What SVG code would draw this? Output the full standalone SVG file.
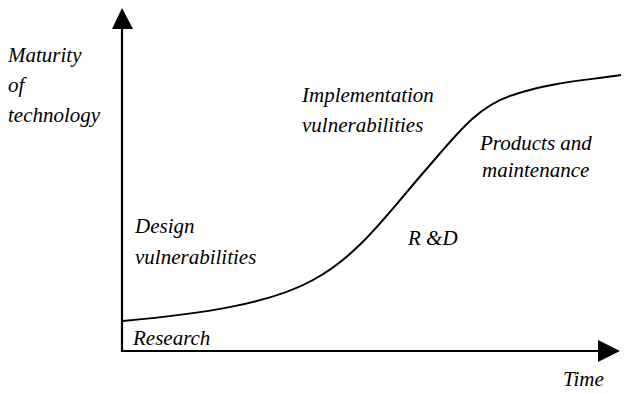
<svg xmlns="http://www.w3.org/2000/svg" width="629" height="393" viewBox="0 0 629 393">
<rect width="629" height="393" fill="#fff"/>
<g id="connectors">
<path d="M122,352 L122,28" stroke="#000" stroke-width="2.2" fill="none"/>
<polygon points="122,8 112,29 133,29" fill="#000"/>
<path d="M121,351 L599,351" stroke="#000" stroke-width="2.2" fill="none"/>
<polygon points="620,351 598,340 598,362" fill="#000"/>
<path d="M123,321 C200,314 270,304 313,280 C360,255 390,210 430,165 C460,130 480,105 513,95 C550,82 590,80 621,75" stroke="#000" stroke-width="2" fill="none"/>
</g>
<g id="axis-y-label">
<text x="8" y="62" style="font-family:'Liberation Serif',serif !important;font-style:italic !important;font-size:21px !important">Maturity</text>
<text x="8" y="92" style="font-family:'Liberation Serif',serif !important;font-style:italic !important;font-size:21px !important">of</text>
<text x="8" y="122" style="font-family:'Liberation Serif',serif !important;font-style:italic !important;font-size:21px !important">technology</text>
</g>
<g id="impl">
<text x="302" y="102" style="font-family:'Liberation Serif',serif !important;font-style:italic !important;font-size:21px !important">Implementation</text>
<text x="302" y="132" style="font-family:'Liberation Serif',serif !important;font-style:italic !important;font-size:21px !important">vulnerabilities</text>
</g>
<g id="products">
<text x="480" y="150" style="font-family:'Liberation Serif',serif !important;font-style:italic !important;font-size:21px !important">Products and</text>
<text x="482" y="177" style="font-family:'Liberation Serif',serif !important;font-style:italic !important;font-size:21px !important">maintenance</text>
</g>
<g id="rd"><text x="408" y="245" style="font-family:'Liberation Serif',serif !important;font-style:italic !important;font-size:21px !important">R &amp;D</text></g>
<g id="design">
<text x="135" y="233" style="font-family:'Liberation Serif',serif !important;font-style:italic !important;font-size:21px !important">Design</text>
<text x="135" y="264" style="font-family:'Liberation Serif',serif !important;font-style:italic !important;font-size:21px !important">vulnerabilities</text>
</g>
<g id="research"><text x="133" y="345" style="font-family:'Liberation Serif',serif !important;font-style:italic !important;font-size:21px !important">Research</text></g>
<g id="time"><text x="563" y="386" style="font-family:'Liberation Serif',serif !important;font-style:italic !important;font-size:21px !important">Time</text></g>
</svg>
